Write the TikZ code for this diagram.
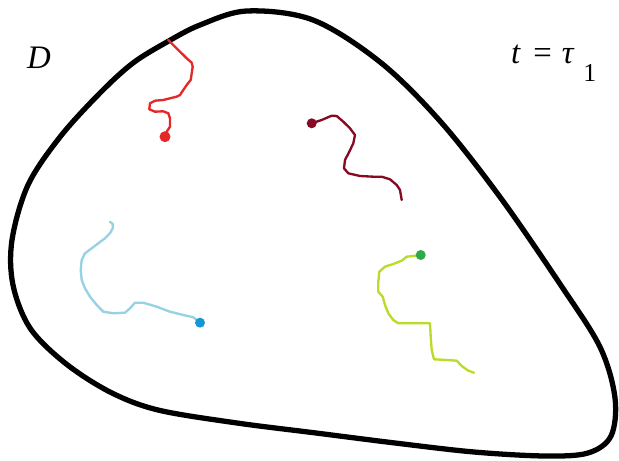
\documentclass[tikz,border=0pt]{standalone}
\usepackage{fontspec}
\setmainfont{Liberation Serif}
\usepackage{tikz}
\usepackage{xcolor}

\definecolor{walkred}{RGB}{228,40,40}
\definecolor{walkmaroon}{RGB}{135,10,35}
\definecolor{walkblue}{RGB}{150,210,228}
\definecolor{dotblue}{RGB}{20,150,215}
\definecolor{walklime}{RGB}{185,220,40}
\definecolor{dotgreen}{RGB}{45,170,70}

\begin{document}
\begin{tikzpicture}[
    x=0.03cm, y=-0.03cm,
    border/.style={line width=4.5pt, black, line join=round},
    walk/.style={line width=2pt, line join=round, line cap=round},
    lbl/.style={inner sep=0pt, anchor=base west, font=\fontsize{28}{30}\selectfont}
]
\useasboundingbox (0,0) rectangle (619,461);

% domain D
\draw[border] plot[smooth cycle, tension=0.55] coordinates {
    (247,11) (313,20) (380,62) (440,121) (500,197) (560,284) (600,347)
    (615,398) (611,436) (588,453) (545,456) (474,452) (395,443) (316,433)
    (237,423) (158,410) (110,392) (65,363) (30,328) (13,285) (12,240)
    (28,185) (60,137) (100,93) (133,63) (167,42) (200,25)};

\node[lbl] (dom) at (27,69) {\itshape D};
\node[lbl] (time) at (511,64) {\itshape t\hspace{0.4em}\upshape=\hspace{0.3em}\itshape τ\hspace{0.3em}\raisebox{-15pt}{\upshape\fontsize{22}{22}\selectfont 1}};

% red walk, stopped on the boundary
\coordinate (redstart) at (165,136.7);
\draw[walk, walkred] (redstart) -- (166.7,131.7) -- (170,126.7) -- (170,118.3) -- (168.3,113.3)
    -- (163.3,111.3) -- (155,111.7) -- (149.3,109.3) -- (150,103.3) -- (155,100.7)
    -- (163.3,100) -- (170,98.3) -- (176.7,96.7) -- (180,95) -- (183.3,90) -- (186.7,85)
    -- (190.7,80) -- (191.7,73.3) -- (192.7,66.7) -- (191.7,62.7) -- (186.7,58.3)
    -- (180,51.7) -- (173.3,45) -- (168.3,40);
\fill[walkred] (redstart) circle (5.5);

% maroon walk
\coordinate (maroonstart) at (311.7,123.3);
\draw[walk, walkmaroon] (maroonstart) -- (321.7,120) -- (331.7,115.7) -- (336.7,116) -- (343.3,121.7)
    -- (350,128.3) -- (355,135) -- (353.3,143.3) -- (349.3,151.7) -- (345,160) -- (344,168.3)
    -- (348.3,173.3) -- (360,176) -- (373.3,176.7) -- (381.7,176.7) -- (390,179.3)
    -- (396.7,185) -- (400,190) -- (401.7,200);
\fill[walkmaroon] (maroonstart) circle (5);

% blue walk
\coordinate (bluestart) at (200,322.7);
\draw[walk, walkblue] (bluestart) -- (193.3,317.3) -- (183.3,315) -- (170,311.7) -- (156.7,306.7)
    -- (143.3,302.7) -- (135,302.7) -- (130,308.3) -- (125,312.7) -- (113.3,313.3)
    -- (103.3,311.7) -- (96.7,305) -- (90,296.7) -- (85,288.3) -- (81.7,280) -- (80.7,270)
    -- (81.7,260) -- (85,253.3) -- (91.7,248.3) -- (98.3,243.3) -- (105,238.3) -- (110,233.3)
    -- (112.7,228.3) -- (112.7,224) -- (110,221.7);
\fill[dotblue] (bluestart) circle (5);

% green walk
\coordinate (greenstart) at (420.7,255);
\draw[walk, walklime] (greenstart) -- (413.3,256) -- (406.7,256.7) -- (401.7,260.7) -- (393.3,264)
    -- (385,266.7) -- (379.3,271.7) -- (378.3,281.7) -- (378.3,291.7) -- (382.7,296.7)
    -- (385,305) -- (388.3,313.3) -- (393.3,320) -- (398.3,323.3) -- (410,323.3) -- (430,323.3)
    -- (430.7,336.7) -- (431.7,350) -- (434,359.3) -- (446.7,360) -- (456.7,360.7)
    -- (461.7,366) -- (468.3,370.7) -- (474,372.7);
\fill[dotgreen] (greenstart) circle (5);
\end{tikzpicture}
\end{document}
